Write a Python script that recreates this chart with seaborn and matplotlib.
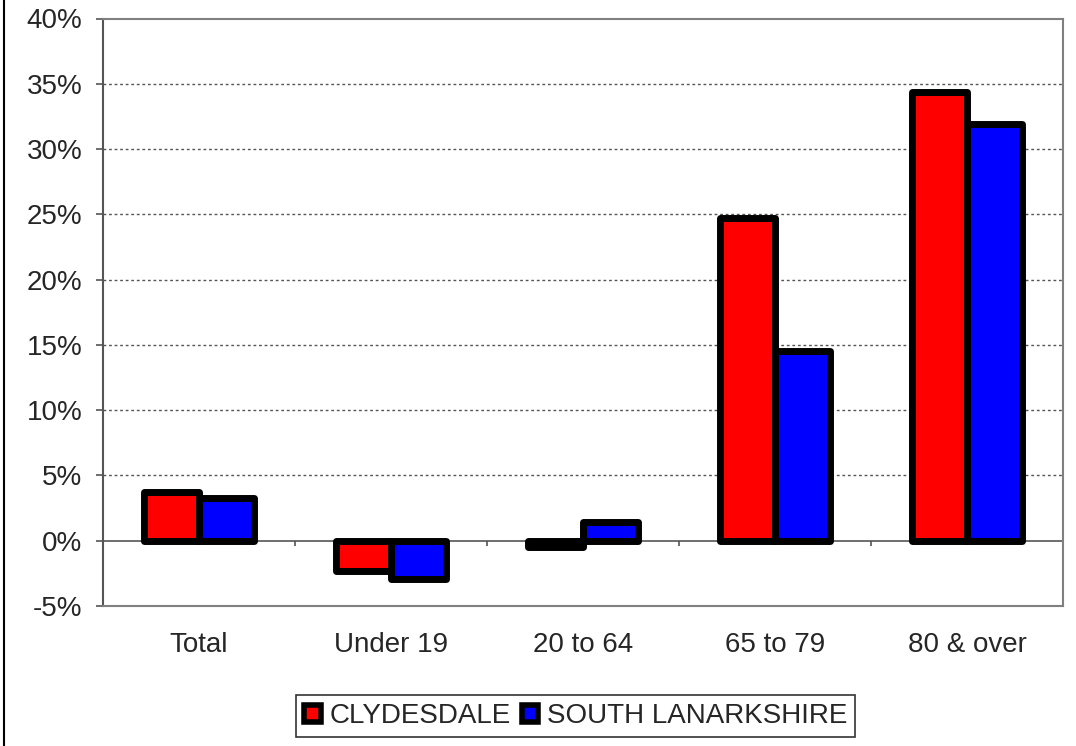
import pandas as pd
import matplotlib.pyplot as plt
import seaborn as sns
from matplotlib.patches import Patch
from matplotlib.lines import Line2D
from matplotlib.ticker import FuncFormatter

# Chart data (percentage change by age group)
age_groups = ['Total', 'Under 19', '20 to 64', '65 to 79', '80 & over']
clydesdale = [3.75, -2.3, -0.45, 24.7, 34.4]
south_lanarkshire = [3.3, -2.9, 1.45, 14.5, 31.9]
areas = ['CLYDESDALE', 'SOUTH LANARKSHIRE']
colors = ['#FF0000', '#0000FF']

# Long form table for seaborn
df = pd.DataFrame({
    'group': age_groups * 2,
    'change': clydesdale + south_lanarkshire,
    'area': [areas[0]] * len(age_groups) + [areas[1]] * len(age_groups),
})

sns.set_style('white')
plt.rcParams['font.family'] = ['Liberation Sans', 'DejaVu Sans']

fig = plt.figure(figsize=(10.76, 7.46), dpi=100)
ax = fig.add_axes([103 / 1076, 1 - 606 / 746, 960 / 1076, 587.5 / 746])

sns.barplot(data=df, x='group', y='change', hue='area', order=age_groups,
            hue_order=areas, palette=colors, saturation=1, width=0.57,
            edgecolor='black', linewidth=5, legend=False, ax=ax, zorder=3)
for p in ax.patches:
    p.set_joinstyle('round')

ax.set_ylim(-5, 40)
ax.set_xlim(-0.5, len(age_groups) - 0.5)
ax.set_yticks(range(-5, 41, 5))
ax.yaxis.set_major_formatter(FuncFormatter(lambda v, _: f'{v:.0f}%'))

# dotted grid lines, solid zero line
for v in range(5, 40, 5):
    ax.axhline(v, color='#555555', lw=1, ls=(0, (2, 2)), zorder=1)
ax.axhline(0, color='#555555', lw=1.2, zorder=2)
ax.vlines([i + 0.5 for i in range(len(age_groups) - 1)], -0.4, 0,
          color='#555555', lw=1.2, zorder=2)

for side in ['top', 'right', 'bottom']:
    ax.spines[side].set_color('#808080')
    ax.spines[side].set_linewidth(1.5)
ax.spines['left'].set_color('#555555')
ax.spines['left'].set_linewidth(1.5)

ax.tick_params(axis='y', length=5, width=1.2, color='#555555', pad=10,
               labelsize=20, left=True)
ax.tick_params(axis='x', length=0, pad=19, labelsize=20)
ax.set_xlabel('')
ax.set_ylabel('')

handles = [Patch(facecolor=c, edgecolor='black', linewidth=4) for c in colors]
leg = fig.legend(handles, areas, loc='center', bbox_to_anchor=(0.535, 0.040),
                 ncol=2, fontsize=20, frameon=True, fancybox=False,
                 edgecolor='black', handlelength=0.6, handleheight=0.6,
                 handletextpad=0.3, columnspacing=0.4, borderpad=0.3,
                 borderaxespad=0)
leg.get_frame().set_linewidth(1.2)

fig.add_artist(Line2D([3.5 / 1076, 3.5 / 1076], [0, 1], color='black', lw=1.5))

fig.savefig('out.png', dpi=100)
